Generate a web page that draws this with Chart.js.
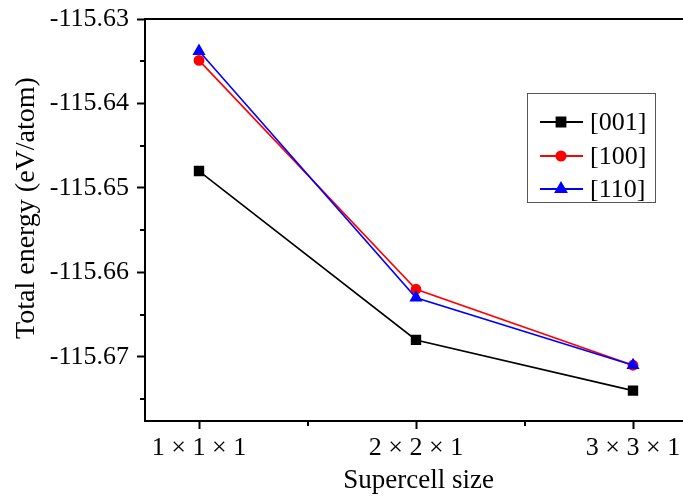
<!DOCTYPE html>
<html>
<head>
<meta charset="utf-8">
<script src="https://cdn.jsdelivr.net/npm/chart.js@4"></script>
<style>
  html, body { margin: 0; padding: 0; background: #ffffff; overflow: hidden; }
  #wrap { width: 683px; height: 499px; position: relative; overflow: hidden; }
  #c { position: absolute; left: 0; top: 0; }
</style>
</head>
<body>
<div id="wrap"><canvas id="c" width="700" height="499"></canvas></div>
<script>
// ---- data ----
const categories = ["1 \u00d7 1 \u00d7 1", "2 \u00d7 2 \u00d7 1", "3 \u00d7 3 \u00d7 1"];
const seriesNames = ["[001]", "[100]", "[110]"];
const values001 = [-115.648, -115.668, -115.674];
const values100 = [-115.6349, -115.662, -115.671];
const values110 = [-115.6338, -115.663, -115.671];
const yTicks = [-115.63, -115.64, -115.65, -115.66, -115.67];
const yMinorTicks = [-115.635, -115.645, -115.655, -115.665, -115.675];
const xMinorTicks = [1.5, 2.5];
const xTitle = 'Supercell size';
const yTitle = 'Total energy (eV/atom)';

const FONT = "'Liberation Serif', 'Times New Roman', serif";

function pts(vals) { return vals.map((v, i) => ({ x: i + 1, y: v })); }

const framePlugin = {
  id: 'frameExtras',
  afterDraw(chart) {
    const ctx = chart.ctx;
    const xs = chart.scales.x, ys = chart.scales.y;
    const a = chart.chartArea;
    ctx.save();
    ctx.strokeStyle = '#000';
    ctx.lineWidth = 2;
    ctx.beginPath();
    ctx.moveTo(a.left - 1, a.top);
    ctx.lineTo(chart.width, a.top);
    ctx.moveTo(a.right, a.bottom);
    ctx.lineTo(chart.width, a.bottom);
    ctx.stroke();
    ctx.beginPath();
    yMinorTicks.forEach(v => {
      const p = Math.round(ys.getPixelForValue(v));
      ctx.moveTo(a.left, p);
      ctx.lineTo(a.left - 5, p);
    });
    xMinorTicks.forEach(v => {
      const p = Math.round(xs.getPixelForValue(v));
      ctx.moveTo(p, a.bottom);
      ctx.lineTo(p, a.bottom + 5);
    });
    ctx.stroke();
    ctx.translate(27, 208);
    ctx.rotate(-Math.PI / 2);
    ctx.fillStyle = '#000';
    ctx.font = '28px ' + FONT;
    ctx.textAlign = 'center';
    ctx.textBaseline = 'middle';
    ctx.fillText(yTitle, 0, 0);
    ctx.restore();
  }
};

const legendPlugin = {
  id: 'boxLegend',
  afterDraw(chart) {
    const ctx = chart.ctx;
    ctx.save();
    const bx = 527, by = 93, bw = 128, bh = 109;
    ctx.fillStyle = '#ffffff';
    ctx.fillRect(bx, by, bw, bh);
    ctx.strokeStyle = '#555';
    ctx.lineWidth = 1;
    ctx.strokeRect(bx + 0.5, by + 0.5, bw, bh);
    const rows = [122, 156, 189];
    chart.data.datasets.forEach((ds, i) => {
      const y = rows[i];
      ctx.strokeStyle = ds.borderColor;
      ctx.lineWidth = 2;
      ctx.beginPath();
      ctx.moveTo(540, y);
      ctx.lineTo(583, y);
      ctx.stroke();
      Chart.helpers.drawPoint(ctx, {
        pointStyle: ds.pointStyle,
        radius: ds.pointRadius,
        borderWidth: 1
      }, 561, y);
      ctx.fillStyle = ds.borderColor;
      ctx.fill();
      ctx.fillStyle = '#000';
      ctx.font = '26px ' + FONT;
      ctx.textBaseline = 'middle';
      ctx.textAlign = 'left';
      ctx.fillText(ds.label, 590, y + 1);
    });
    ctx.restore();
  }
};

const mk = (label, vals, color, style, r, order) => ({
  label, data: pts(vals), borderColor: color, backgroundColor: color,
  pointBackgroundColor: color, pointBorderColor: color,
  pointStyle: style, pointRadius: r, pointHoverRadius: r, borderWidth: 1.6,
  tension: 0, order
});

const chart = new Chart(document.getElementById('c'), {
  type: 'line',
  data: {
    datasets: [
      mk(seriesNames[0], values001, '#000000', 'rect', 6.2, 3),
      mk(seriesNames[1], values100, '#ff0000', 'circle', 4.6, 2),
      mk(seriesNames[2], values110, '#0000ff', 'triangle', 6, 1)
    ]
  },
  options: {
    responsive: false,
    animation: false,
    events: [],
    layout: { padding: { top: 19, left: 0, right: 0, bottom: 0 } },
    plugins: { legend: { display: false }, tooltip: { enabled: false } },
    scales: {
      x: {
        type: 'linear',
        min: 0.75, max: 3.25,
        afterBuildTicks: s => { s.ticks = [1, 2, 3].map(v => ({ value: v })); },
        afterFit: s => { s.height = 78; s.paddingLeft = 0; s.paddingRight = 0; },
        ticks: {
          autoSkip: false, maxRotation: 0, padding: 4, color: '#000',
          font: { family: FONT, size: 26 },
          callback: v => categories[Math.round(v) - 1]
        },
        grid: { drawOnChartArea: false, tickLength: 8, tickWidth: 2, tickColor: '#000' },
        border: { display: true, color: '#000', width: 2 },
        title: { display: true, text: xTitle, color: '#000',
                 font: { family: FONT, size: 27 }, padding: { top: 0, bottom: 2 } }
      },
      y: {
        type: 'linear',
        min: -115.6776, max: -115.63,
        afterBuildTicks: s => { s.ticks = yTicks.map(v => ({ value: v })); },
        afterFit: s => { s.width = 145; s.paddingTop = 0; s.paddingBottom = 0; },
        ticks: {
          padding: 8, color: '#000',
          font: { family: FONT, size: 26 },
          callback: v => Number(v).toFixed(2)
        },
        grid: { drawOnChartArea: false, tickLength: 8, tickWidth: 2, tickColor: '#000' },
        border: { display: true, color: '#000', width: 2 }
      }
    }
  },
  plugins: [framePlugin, legendPlugin]
});

// fit the x range so the categories sit where the reference puts them (1 -> 199px, 3 -> 633px)
(function () {
  const a = chart.chartArea;
  const unit = (633 - 199) / 2;
  chart.options.scales.x.min = 1 - (199 - a.left) / unit;
  chart.options.scales.x.max = 3 + (a.right - 633) / unit;
  chart.update();
})();
</script>
</body>
</html>
